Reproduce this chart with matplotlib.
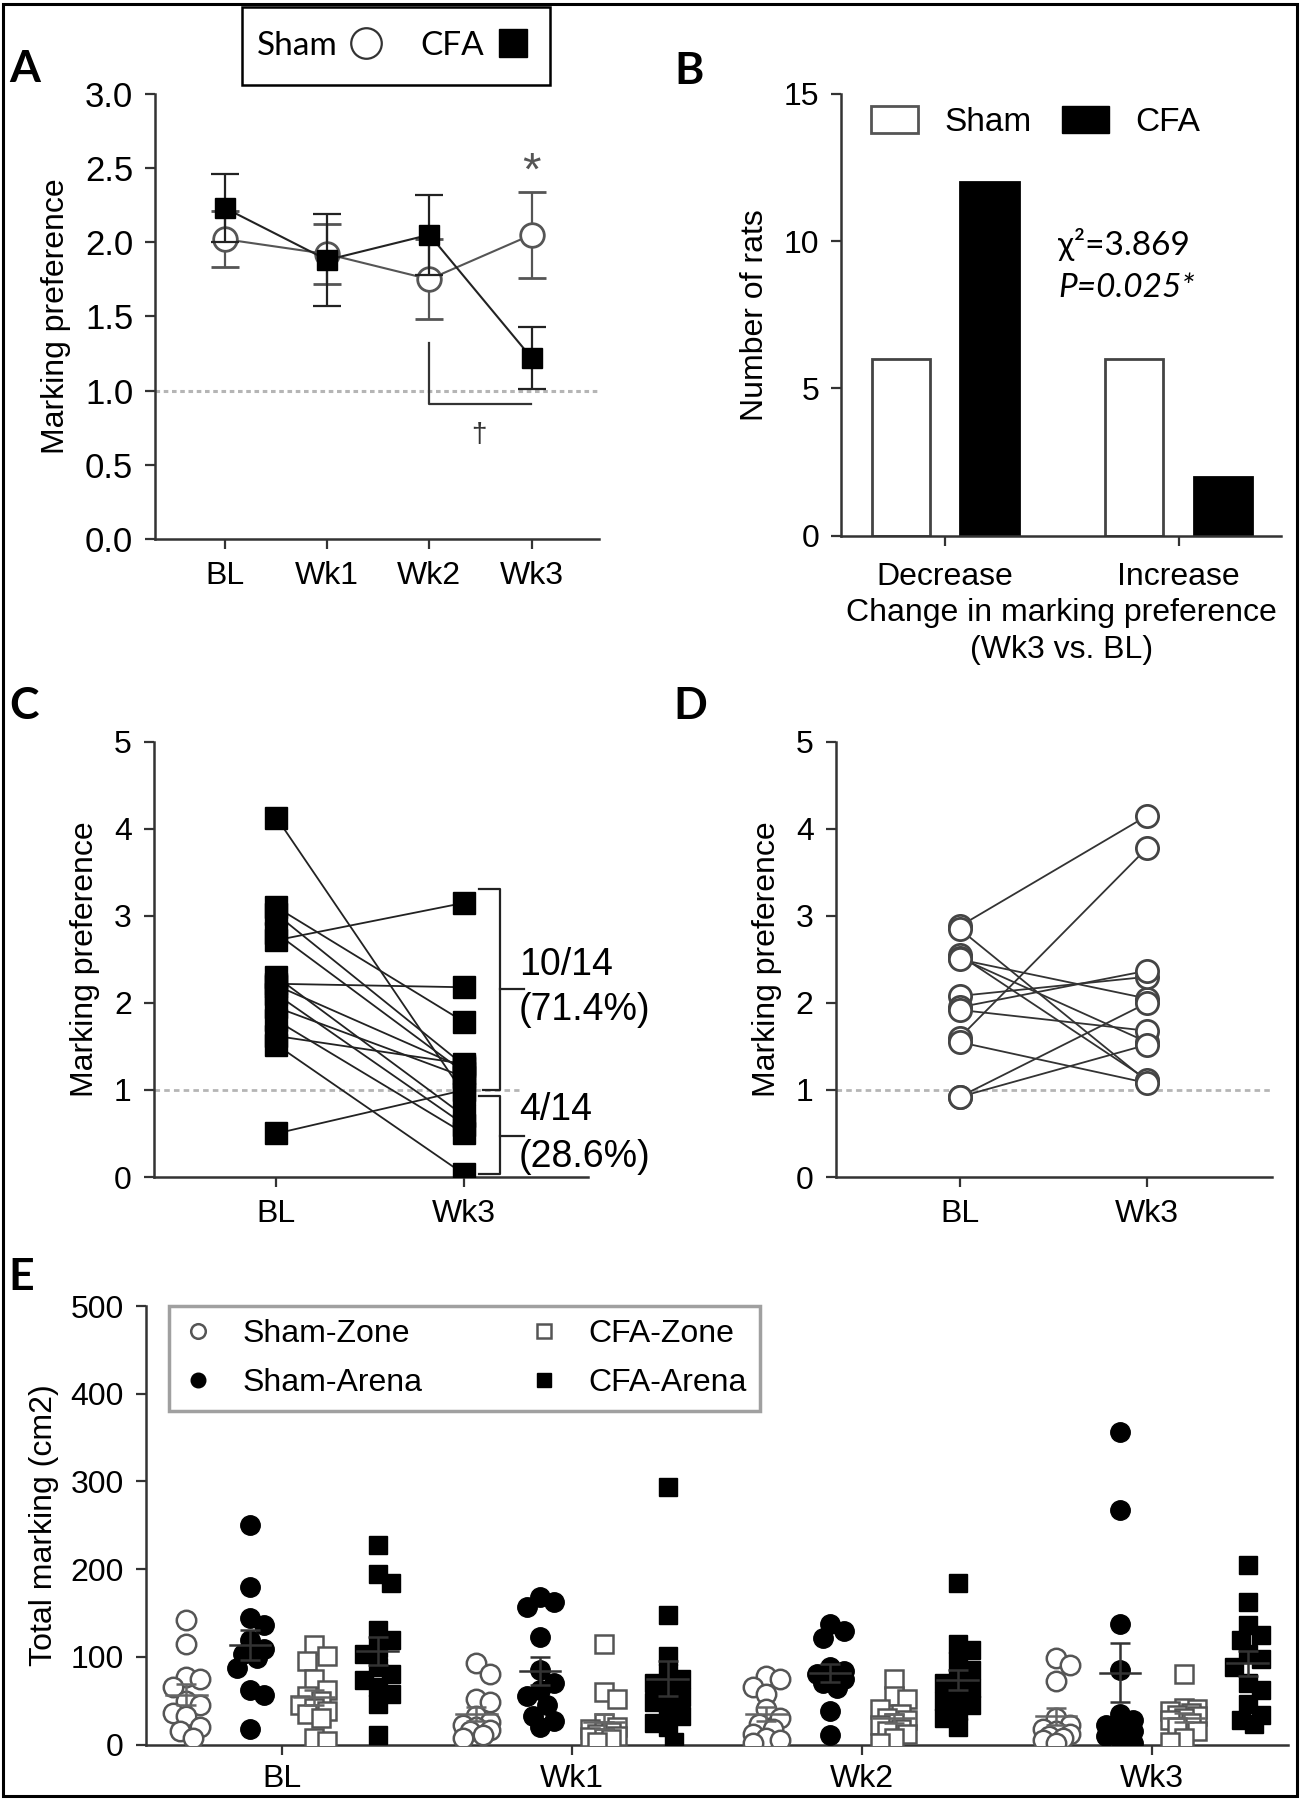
import numpy as np
import matplotlib
matplotlib.use('Agg')
import matplotlib.pyplot as plt
from matplotlib.patches import Patch, Rectangle
from matplotlib.lines import Line2D

plt.rcParams['font.family'] = ['Liberation Sans', 'DejaVu Sans']
plt.rcParams['font.size'] = 23
plt.rcParams['axes.linewidth'] = 1.8
plt.rcParams['axes.edgecolor'] = '#333333'
plt.rcParams['xtick.major.size'] = 7
plt.rcParams['ytick.major.size'] = 7
plt.rcParams['xtick.major.width'] = 1.6
plt.rcParams['ytick.major.width'] = 1.6
plt.rcParams['xtick.color'] = '#333333'
plt.rcParams['ytick.color'] = '#333333'
plt.rcParams['xtick.labelcolor'] = 'black'
plt.rcParams['ytick.labelcolor'] = 'black'
CAL = ['Lato', 'DejaVu Sans']

# ---------------- data ----------------
# A: marking preference over time (mean, SEM)
weeks = ['BL', 'Wk1', 'Wk2', 'Wk3']
sham_mean = [2.02, 1.92, 1.75, 2.05]
sham_sem = [0.19, 0.20, 0.27, 0.29]
cfa_mean = [2.23, 1.88, 2.05, 1.22]
cfa_sem = [0.23, 0.31, 0.27, 0.21]

# B: number of rats by change (Wk3 vs BL)
change_cats = ['Decrease', 'Increase']
sham_counts = [6, 6]
cfa_counts = [12, 2]

# C: individual CFA rats, BL -> Wk3
cfa_bl = [4.13, 3.10, 3.02, 2.80, 2.72, 2.30, 2.22, 2.20, 2.10, 1.95, 1.80, 1.62, 1.52, 0.50]
cfa_wk3 = [0.95, 1.78, 1.28, 1.20, 3.15, 0.70, 2.18, 1.25, 0.60, 1.15, 0.50, 1.30, 0.03, 1.00]

# D: individual Sham rats, BL -> Wk3
sham_bl = [2.88, 1.60, 2.85, 2.55, 2.52, 2.50, 2.08, 1.95, 1.92, 1.55, 0.92, 0.92]
sham_wk3 = [4.15, 3.78, 1.10, 1.12, 1.55, 2.05, 2.30, 2.37, 1.68, 1.08, 2.00, 1.52]

# E: total marking (cm2), one list per week
sham_zone = [[142, 115, 77, 75, 66, 50, 45, 36, 33, 20, 15, 8],
             [93, 80, 52, 48, 32, 26, 22, 20, 17, 15, 11, 7],
             [78, 75, 66, 58, 40, 30, 24, 18, 12, 8, 5, 2],
             [99, 91, 72, 30, 22, 18, 15, 12, 10, 8, 5, 2]]
sham_arena = [[250, 180, 144, 136, 119, 109, 103, 99, 87, 62, 56, 18],
              [168, 163, 157, 123, 85, 70, 62, 55, 45, 32, 27, 20],
              [138, 130, 122, 88, 84, 80, 78, 75, 70, 65, 38, 11],
              [356, 268, 138, 85, 35, 28, 22, 18, 15, 10, 6, 2]]
cfa_zone = [[113, 101, 95, 75, 62, 55, 50, 45, 42, 38, 35, 30, 7, 4],
            [115, 60, 52, 25, 20, 18, 16, 14, 12, 10, 9, 8, 6, 3],
            [75, 55, 52, 40, 35, 30, 28, 25, 22, 18, 15, 12, 8, 2],
            [80, 42, 40, 38, 36, 34, 32, 30, 28, 25, 20, 15, 8, 3]]
cfa_arena = [[227, 195, 184, 131, 119, 110, 103, 88, 80, 74, 66, 58, 46, 11],
             [294, 148, 101, 82, 75, 70, 62, 54, 48, 40, 32, 25, 20, 3],
             [184, 115, 108, 95, 85, 76, 70, 64, 56, 50, 45, 38, 30, 20],
             [205, 162, 136, 125, 119, 103, 98, 88, 70, 62, 46, 34, 28, 24]]
e_labels = ['Sham-Zone', 'Sham-Arena', 'CFA-Zone', 'CFA-Arena']


def style_axes(ax):
    for s in ['top', 'right']:
        ax.spines[s].set_visible(False)
    ax.tick_params(direction='out', pad=9)


def swarm(vals, xpx=290.0, ypx=0.877, diam=15.0):
    # simple beeswarm: spread overlapping points sideways
    placed = []
    offs = []
    step = diam * 0.45
    for v in vals:
        y = v * ypx
        best, bestd = 0.0, -1
        for k in [0, 1, -1, 2, -2]:
            x = k * step
            d = min([np.hypot(x - px, y - py) for px, py in placed] + [1e9])
            if d >= diam:
                best = x
                break
            if d > bestd:
                best, bestd = x, d
        placed.append((best, y))
        offs.append(best / xpx)
    return np.array(offs)


fig = plt.figure(figsize=(13, 18), dpi=100)

# ---------------- A ----------------
axA = fig.add_axes([0.1196, 0.7006, 0.3412, 0.2473])
style_axes(axA)
x = np.arange(len(weeks))
axA.axhline(1.0, color='#b5b5b5', lw=2.2, ls=(0, (1.5, 1.2)), zorder=1)
axA.errorbar(x, sham_mean, yerr=sham_sem, fmt='-o', color='#555555', mfc='white',
             mec='#555555', ms=17, mew=2, lw=1.5, capsize=10, capthick=1.6,
             elinewidth=1.6, zorder=3)
axA.errorbar(x, cfa_mean, yerr=cfa_sem, fmt='-s', color='#222222', mfc='black',
             mec='black', ms=15, lw=1.5, capsize=10, capthick=1.6,
             elinewidth=1.6, zorder=4)
axA.plot([2, 2, 2.99], [1.32, 0.91, 0.91], color='#333333', lw=1.6)
axA.text(2.48, 0.70, '†', ha='center', va='center', fontsize=20, color='#333333')
axA.text(3, 2.47, '*', ha='center', va='center', fontsize=34, color='#555555')
axA.set_xlim(-0.68, 3.66)
axA.set_ylim(0, 3.0)
axA.set_xticks(x)
axA.set_xticklabels(weeks)
axA.set_yticks(np.arange(0, 3.01, 0.5))
axA.set_yticklabels(['%.1f' % v for v in np.arange(0, 3.01, 0.5)], fontsize=25)
axA.set_ylabel('Marking preference', labelpad=10)

# legend box for A drawn in figure coordinates
fig.patches.append(Rectangle((242 / 1300, 1 - 85 / 1800), 308 / 1300, 78 / 1800,
                             transform=fig.transFigure, fill=False, lw=1.8, ec='black'))
hA = [Line2D([], [], marker='o', ls='none', mfc='white', mec='#333333', ms=22, mew=1.6),
      Line2D([], [], marker='s', ls='none', mfc='black', mec='black', ms=20)]
fig.legend(hA, ['Sham', 'CFA'], loc='center', bbox_to_anchor=(394 / 1300, 1 - 46 / 1800),
           ncol=2, markerfirst=False, frameon=False,
           prop={'family': CAL, 'size': 24}, handletextpad=0.3,
           columnspacing=1.1, borderpad=0.2, handlelength=1.1)

# ---------------- B ----------------
axB = fig.add_axes([0.6473, 0.7024, 0.3381, 0.2455])
style_axes(axB)
axB.tick_params(axis='x', pad=12)
xb = np.arange(len(change_cats))
axB.bar(xb - 0.19, sham_counts, 0.25, color='white', edgecolor='#444444', lw=2)
axB.bar(xb + 0.19, cfa_counts, 0.25, color='black', edgecolor='black', lw=2)
axB.set_xlim(-0.444, 1.439)
axB.set_ylim(0, 15)
axB.set_yticks([0, 5, 10, 15])
axB.set_xticks(xb)
axB.set_xticklabels(change_cats)
axB.set_ylabel('Number of rats', labelpad=10)
axB.set_xlabel('Change in marking preference\n(Wk3 vs. BL)', linespacing=1.3, labelpad=4)
axB.legend(handles=[Patch(fc='white', ec='#555555', lw=2), Patch(fc='black', ec='black')],
           labels=['Sham', 'CFA'], loc='upper left', bbox_to_anchor=(0.0, 1.04),
           ncol=2, frameon=False, handlelength=1.4, handleheight=0.85,
           handletextpad=0.8, columnspacing=0.9, fontsize=24)
axB.text(0.483, 9.9, 'χ²=3.869', family=CAL, fontsize=24, va='center')
axB.text(0.483, 8.4, 'P=0.025*', family=CAL, fontsize=24, va='center', style='italic')

# ---------------- C ----------------
axC = fig.add_axes([0.1185, 0.3461, 0.3335, 0.2418])
style_axes(axC)
axC.hlines(1.0, -0.651, 1.29, color='#b5b5b5', lw=2, ls=(0, (2, 1.5)), zorder=1)
for b, w in zip(cfa_bl, cfa_wk3):
    axC.plot([0, 1], [b, w], color='#222222', lw=1.3, zorder=2)
axC.plot(np.zeros(len(cfa_bl)), cfa_bl, 's', color='black', ms=16, zorder=3)
axC.plot(np.ones(len(cfa_wk3)), cfa_wk3, 's', color='black', ms=16, zorder=3)
# braces
axC.plot([1.08, 1.188, 1.188, 1.10], [3.31, 3.31, 1.0, 1.0], color='#222222', lw=1.6)
axC.plot([1.188, 1.317], [2.16, 2.16], color='#222222', lw=1.6)
axC.plot([1.08, 1.188, 1.188, 1.08], [0.93, 0.93, 0.03, 0.03], color='#222222', lw=1.6)
axC.plot([1.188, 1.317], [0.47, 0.47], color='#222222', lw=1.6)
axC.text(1.29, 2.43, '10/14', fontsize=27, va='center')
axC.text(1.29, 1.92, '(71.4%)', fontsize=27, va='center')
axC.text(1.29, 0.77, '4/14', fontsize=27, va='center')
axC.text(1.29, 0.23, '(28.6%)', fontsize=27, va='center')
axC.set_xlim(-0.651, 1.656)
axC.set_ylim(0, 5)
axC.set_yticks(range(6))
axC.set_xticks([0, 1])
axC.set_xticklabels(['BL', 'Wk3'])
axC.set_ylabel('Marking preference', labelpad=10)

# ---------------- D ----------------
axD = fig.add_axes([0.6430, 0.3461, 0.3352, 0.2418])
style_axes(axD)
axD.axhline(1.0, color='#b5b5b5', lw=2, ls=(0, (2, 1.5)), zorder=1)
for b, w in zip(sham_bl, sham_wk3):
    axD.plot([0, 1], [b, w], color='#333333', lw=1.3, zorder=2)
axD.plot(np.zeros(len(sham_bl)), sham_bl, 'o', mfc='white', mec='#444444', mew=2,
         ms=16, zorder=3)
axD.plot(np.ones(len(sham_wk3)), sham_wk3, 'o', mfc='white', mec='#444444', mew=2,
         ms=16, zorder=3)
axD.set_xlim(-0.659, 1.664)
axD.set_ylim(0, 5)
axD.set_yticks(range(6))
axD.set_xticks([0, 1])
axD.set_xticklabels(['BL', 'Wk3'])
axD.set_ylabel('Marking preference', labelpad=10)

# ---------------- E ----------------
axE = fig.add_axes([0.1123, 0.0308, 0.8788, 0.2436])
style_axes(axE)
axE.tick_params(axis='x', pad=7)
series = [sham_zone, sham_arena, cfa_zone, cfa_arena]
offsets = [-0.33, -0.11, 0.11, 0.33]
mstyle = [dict(marker='o', mfc='white', mec='#555555', mew=1.8, ms=14),
          dict(marker='o', mfc='black', mec='black', ms=14),
          dict(marker='s', mfc='white', mec='#555555', mew=1.8, ms=13),
          dict(marker='s', mfc='black', mec='black', ms=13)]
lcol = ['#666666', '#333333', '#666666', '#333333']
for si, data in enumerate(series):
    for wi, vals in enumerate(data):
        vals = np.array(vals, dtype=float)
        xc = wi + offsets[si]
        axE.plot(xc + swarm(vals), vals, ls='none', zorder=3, **mstyle[si])
        m = vals.mean()
        sem = vals.std(ddof=1) / np.sqrt(len(vals))
        axE.plot([xc - 0.07, xc + 0.07], [m, m], color=lcol[si], lw=1.8, zorder=4)
        axE.errorbar([xc], [m], yerr=[sem], fmt='none', ecolor=lcol[si], elinewidth=1.8,
                     capsize=7, capthick=1.8, zorder=4)
axE.set_xlim(-0.469, 3.471)
axE.set_ylim(0, 500)
axE.set_yticks(range(0, 501, 100))
axE.set_xticks(range(4))
axE.set_xticklabels(weeks)
axE.set_ylabel('Total marking (cm2)', labelpad=8)
hE = [Line2D([], [], ls='none', **dict(mstyle[i], ms=mstyle[i]['ms'] * 0.75)) for i in range(4)]
legE = axE.legend(hE, e_labels, loc='upper left', bbox_to_anchor=(0.02, 1.0), ncol=2,
                  fancybox=False, edgecolor='#888888', fontsize=23, borderaxespad=0,
                  handlelength=1.0, handletextpad=0.9, columnspacing=3.3,
                  labelspacing=0.6, borderpad=0.4)
legE.get_frame().set_linewidth(2.5)

# ---------------- panel letters & border ----------------
for lab, (lx, ly) in zip('ABCDE', [(0.007, 0.9544), (0.519, 0.9533), (0.007, 0.6006),
                                   (0.518, 0.6006), (0.0065, 0.2833)]):
    fig.text(lx, ly, lab, family=CAL, fontsize=32, fontweight='bold', va='baseline')

fig.patches.append(Rectangle((0.0023, 0.0022), 0.9954, 0.9956, transform=fig.transFigure,
                             fill=False, lw=2.2, ec='black'))

fig.savefig('out.png', dpi=100)
